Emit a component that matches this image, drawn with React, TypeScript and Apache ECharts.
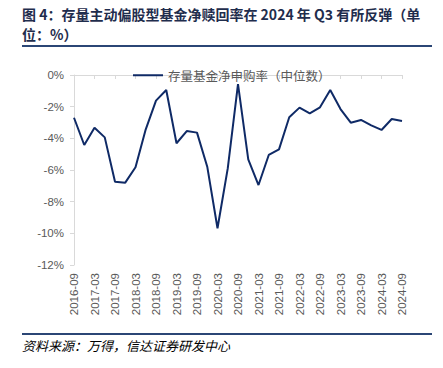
import React, { useEffect, useRef } from "react";
import * as echarts from "echarts";

const categories = [
  "2016-09", "2016-12", "2017-03", "2017-06", "2017-09", "2017-12", "2018-03", "2018-06",
  "2018-09", "2018-12", "2019-03", "2019-06", "2019-09", "2019-12", "2020-03", "2020-06",
  "2020-09", "2020-12", "2021-03", "2021-06", "2021-09", "2021-12", "2022-03", "2022-06",
  "2022-09", "2022-12", "2023-03", "2023-06", "2023-09", "2023-12", "2024-03", "2024-06",
  "2024-09",
];

const netSubscription = [
  -2.7, -4.42, -3.33, -3.94, -6.74, -6.8, -5.83, -3.43,
  -1.62, -0.95, -4.31, -3.54, -3.64, -5.79, -9.68, -5.9,
  -0.57, -5.33, -6.95, -5.05, -4.7, -2.67, -2.06, -2.42,
  -2.04, -0.95, -2.15, -3.01, -2.84, -3.18, -3.47, -2.78,
  -2.9,
];

const seriesName = "存量基金净申购率（中位数）";
const titleLine1 = "图 4：存量主动偏股型基金净赎回率在 2024 年 Q3 有所反弹（单";
const titleLine2 = "位：%）";
const sourceText = "资料来源：万得，信达证券研发中心";

const yMin = -12;
const yMax = 0;
const yInterval = 2;

export default function App() {
  const ref = useRef<HTMLDivElement>(null);
  useEffect(() => {
    if (!ref.current) return;
    const chart = echarts.init(ref.current, undefined, { renderer: "svg" });
    const navy = "#2b4675";
    const gray = "#595959";
    const titleStyle = {
      fontFamily: "Noto Sans CJK SC",
      fontWeight: "bold",
      fontSize: 14,
      fill: "#1f2d4d",
      verticalAlign: "middle",
      align: "left",
    };
    chart.setOption({
      animation: false,
      backgroundColor: "#ffffff",
      legend: {
        left: 128,
        top: 64,
        itemWidth: 30,
        itemHeight: 2,
        icon: "rect",
        data: [seriesName],
        textStyle: { fontFamily: "Noto Sans CJK SC", fontSize: 12.5, color: gray },
      },
      grid: { left: 74, right: 41, top: 75, bottom: 103, containLabel: false },
      xAxis: [
        {
          type: "category",
          data: categories,
          boundaryGap: false,
          position: "bottom",
          axisLine: { show: false, onZero: false },
          axisTick: { show: false },
          axisLabel: {
            interval: 1,
            rotate: 90,
            margin: 8,
            fontSize: 11.5,
            fontFamily: "Liberation Sans",
            color: gray,
          },
          splitLine: { show: false },
        },
        {
          type: "category",
          data: categories,
          boundaryGap: false,
          position: "top",
          axisLine: { show: true, onZero: false, lineStyle: { color: "#d9d9d9", width: 1 } },
          axisTick: { show: true, inside: true, interval: 1, length: 4, lineStyle: { color: "#d9d9d9" } },
          axisLabel: { show: false },
          splitLine: { show: false },
        },
      ],
      yAxis: {
        type: "value",
        min: yMin,
        max: yMax,
        interval: yInterval,
        axisLine: { show: true, lineStyle: { color: "#d9d9d9", width: 1 } },
        axisTick: { show: true, length: 4, lineStyle: { color: "#d9d9d9" } },
        splitLine: { show: false },
        axisLabel: {
          margin: 10,
          fontSize: 11.5,
          fontFamily: "Liberation Sans",
          color: gray,
          formatter: (v: number) => `${v}%`,
        },
      },
      series: [
        {
          name: seriesName,
          type: "line",
          xAxisIndex: 0,
          data: netSubscription,
          symbol: "none",
          lineStyle: { color: "#0f2a66", width: 2 },
          itemStyle: { color: "#0f2a66" },
        },
      ],
      graphic: [
        { type: "text", x: 22, y: 13.5, style: { ...titleStyle, text: titleLine1 } },
        { type: "text", x: 22, y: 34, style: { ...titleStyle, text: titleLine2 } },
        { type: "line", shape: { x1: 22, y1: 46, x2: 432, y2: 46 }, style: { stroke: navy, lineWidth: 2 } },
        { type: "line", shape: { x1: 22, y1: 334, x2: 432, y2: 334 }, style: { stroke: navy, lineWidth: 2 } },
        {
          type: "text",
          x: 22,
          y: 345,
          style: {
            text: sourceText,
            fontFamily: "Noto Sans CJK SC",
            fontStyle: "italic",
            fontSize: 13,
            fill: "#000000",
            verticalAlign: "middle",
            align: "left",
          },
        },
      ],
    });
    return () => chart.dispose();
  }, []);
  return (
    <div
      ref={ref}
      style={{ position: "fixed", left: 0, top: 0, width: 443, height: 368, background: "#fff" }}
    />
  );
}
